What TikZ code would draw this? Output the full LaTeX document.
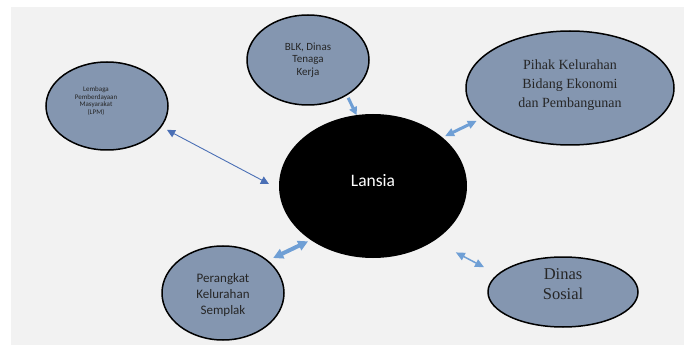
\documentclass[tikz,border=0pt]{standalone}
\usepackage{fontspec}
\usetikzlibrary{shapes.geometric,arrows.meta}
\newfontfamily\calibri{Carlito}
\newfontfamily\tnr{Liberation Serif}
\definecolor{bubblefill}{HTML}{8496B0}
\definecolor{pagegray}{HTML}{F2F2F2}
\definecolor{linkblue}{HTML}{6F9FD5}
\definecolor{linkdark}{HTML}{4A6FB5}
\newcommand*{\FontAt}[2]{\fontsize{#1}{#2}\selectfont}
\tikzset{
  bubble/.style={ellipse, draw=black, line width=1.5pt, fill=bubblefill,
    inner sep=0pt, outer sep=0pt},
  words/.style={align=center, inner sep=0pt, text=black!85},
  link/.style={draw=linkblue, line width=#1}
}

\begin{document}
\begin{tikzpicture}[x=1pt, y=-1pt]
  \useasboundingbox (0,0) rectangle (688,358);
  \fill[pagegray] (11,7) rectangle (684,345);
  % centre and the five partners round it
  \node[ellipse, fill=black, minimum width=188pt, minimum height=144pt, inner sep=0pt,
        outer sep=0pt] (lansia) at (373,186) {};
  \node[words, text=white, font=\calibri\FontAt{17.5}{20}] (lansia text) at (373,181) {Lansia};
  \node[bubble, minimum width=122pt, minimum height=88pt] (lpm) at (107,106) {};
  \node[words, font=\calibri\FontAt{7}{7.6}] (lpm text) at (96,101)
        {Lembaga\\Pemberdayaan\\Masyarakat\\(LPM)};
  \node[bubble, minimum width=122pt, minimum height=90pt] (blk) at (308,60) {};
  \node[words, font=\calibri\FontAt{11}{12.8}] (blk text) at (308,60) {BLK, Dinas\\Tenaga\\Kerja};
  \node[bubble, minimum width=208pt, minimum height=114pt] (pihak) at (570,88) {};
  \node[words, font=\tnr\FontAt{14}{19}] (pihak text) at (570,85.5)
        {Pihak Kelurahan\\Bidang Ekonomi\\dan Pembangunan};
  \node[bubble, minimum width=122pt, minimum height=94pt] (perangkat) at (223,293) {};
  \node[words, font=\calibri\FontAt{13}{16}] (perangkat text) at (223,295)
        {Perangkat\\Kelurahan\\Semplak};
  \node[bubble, minimum width=150pt, minimum height=70pt] (dinas) at (563,292) {};
  \node[words, font=\tnr\FontAt{16.5}{20}] (dinas text) at (563,284) {Dinas\\Sosial};
  % arrows between them
  \draw[draw=linkdark, line width=0.9pt, {Triangle[length=8pt,width=8pt]}-{Triangle[length=8pt,width=8pt]},
        shorten <=7pt, shorten >=11.6pt] (lpm.-21) -- (lansia.182.7);
  \draw[link=3pt, -{Triangle[length=8pt,width=8pt]}, shorten <=3.4pt] (blk.-42.3) -- (lansia.103);
  \draw[link=3pt, {Triangle[length=9pt,width=8pt]}-{Triangle[length=9pt,width=8pt]},
        shorten <=3pt, shorten >=5.8pt] (lansia.35.1) -- (pihak.199.2);
  \draw[link=4pt, {Triangle[length=10pt,width=10pt]}-{Triangle[length=10pt,width=10pt]},
        shorten <=6.4pt, shorten >=3.1pt] (perangkat.36.2) -- (lansia.221.8);
  \draw[link=1.5pt, {Triangle[length=9pt,width=8pt]}-{Triangle[length=9pt,width=8pt]},
        shorten <=24.8pt, shorten >=15.7pt] (lansia.-42.6) -- (dinas.165.9);
\end{tikzpicture}
\end{document}
